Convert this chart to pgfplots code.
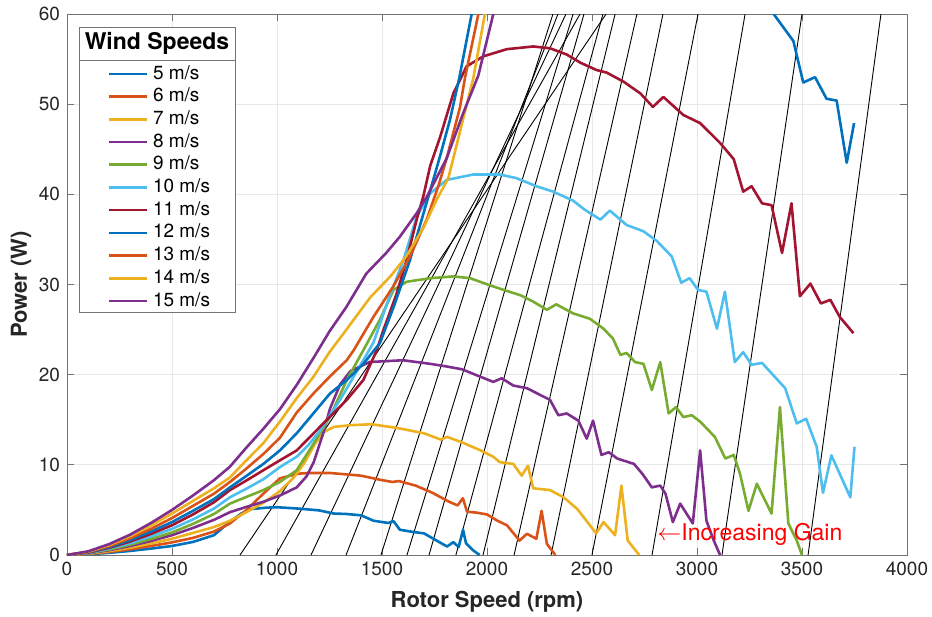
\documentclass[border=0pt]{standalone}
\usepackage{pgfplots}
\pgfplotsset{compat=1.18}
\usepackage{fontspec}
\setmainfont{TeX Gyre Heros}

\definecolor{mb}{rgb}{0,0.447,0.741}
\definecolor{mo}{rgb}{0.850,0.325,0.098}
\definecolor{my}{rgb}{0.929,0.694,0.125}
\definecolor{mp}{rgb}{0.494,0.184,0.556}
\definecolor{mg}{rgb}{0.466,0.674,0.188}
\definecolor{mc}{rgb}{0.301,0.745,0.933}
\definecolor{mr}{rgb}{0.635,0.078,0.184}

\begin{document}
\begin{tikzpicture}
\useasboundingbox (-33.5pt,-30.5pt) rectangle (432.5pt,277.5pt);
\begin{axis}[
  scale only axis, width=420pt, height=270.5pt,
  xmin=0, xmax=4000, ymin=0, ymax=60,
  xtick={0,500,...,4000}, ytick={0,10,...,60},
  scaled ticks=false,
  tick align=inside, tick pos=both,
  major tick length=3.5pt,
  grid=major, major grid style={black!9, line width=0.4pt},
  axis line style={black!55, line width=0.45pt},
  every tick/.style={black!55, line width=0.45pt},
  tick label style={font=\fontsize{9.5}{11}\selectfont, text=black!85},
  /pgf/number format/assume math mode=true,
  /pgf/number format/1000 sep={},
  xlabel={\textbf{Rotor Speed (rpm)}},
  ylabel={\textbf{Power (W)}},
  label style={font=\fontsize{11}{13}\selectfont, text=black!85},
  xlabel style={at={(axis description cs:0.5,-0.086)}, anchor=center},
  ylabel style={at={(axis description cs:-0.0548,0.5)}, anchor=center, rotate=0},
  unbounded coords=jump,
  legend cell align=left,
  legend style={draw=none, fill=none, at={(axis description cs:0.01429,0.906)},
    anchor=north west, inner sep=0pt, row sep=2.65pt, column sep=0pt,
    font=\fontsize{9.5}{11}\selectfont,
    nodes={inner sep=0pt, text height=6.9pt, text depth=1.8pt},
    /tikz/every odd column/.append style={column sep=2.5pt}},
  legend image code/.code={\path (0pt,0pt); \draw[#1] (14pt,0pt) -- (33pt,0pt);},
  every axis plot/.append style={line width=1.3pt, line join=round},
]

% gain lines
\addplot[black, line width=0.45pt, forget plot] coordinates {(824,0) (2567,60)};
\addplot[black, line width=0.45pt, forget plot] coordinates {(995,0) (2443,60)};
\addplot[black, line width=0.45pt, forget plot] coordinates {(1162,0) (2376,60)};
\addplot[black, line width=0.45pt, forget plot] coordinates {(1329,0) (2338,60)};
\addplot[black, line width=0.45pt, forget plot] coordinates {(1495,0) (2314,60)};
\addplot[black, line width=0.45pt, forget plot] coordinates {(1619,0) (2410,60)};
\addplot[black, line width=0.45pt, forget plot] coordinates {(1724,0) (2462,60)};
\addplot[black, line width=0.45pt, forget plot] coordinates {(1852,0) (2552,60)};
\addplot[black, line width=0.45pt, forget plot] coordinates {(1981,0) (2610,60)};
\addplot[black, line width=0.45pt, forget plot] coordinates {(2129,0) (2714,60)};
\addplot[black, line width=0.45pt, forget plot] coordinates {(2305,0) (2838,60)};
\addplot[black, line width=0.45pt, forget plot] coordinates {(2500,0) (3005,60)};
\addplot[black, line width=0.45pt, forget plot] coordinates {(2786,0) (3229,60)};
\addplot[black, line width=0.45pt, forget plot] coordinates {(3119,0) (3500,60)};
\addplot[black, line width=0.45pt, forget plot] coordinates {(3529,0) (3876,60)};

% 5 m/s
\addplot[mb] coordinates {(0,0)(100,0.08)(200,0.24)(300,0.45)(400,0.71)(500,1.0)(600,1.45)(700,2.2)(776,3.7)(830,4.6)(880,5.1)(950,5.25)(1000,5.3)(1100,5.15)(1200,4.95)(1270,4.6)(1330,4.55)(1400,4.4)(1460,3.8)(1530,3.55)(1555,3.75)(1585,2.8)(1650,2.55)(1700,2.4)(1745,1.8)(1790,1.2)(1810,0.95)(1840,1.42)(1865,0.87)(1886,2.8)(1900,1.3)(1935,0.5)(1965,0)};
\addlegendentry{5 m/s}
% 6 m/s
\addplot[mo] coordinates {(0,0)(100,0.11)(200,0.34)(300,0.63)(400,1.0)(500,1.4)(600,1.9)(700,2.6)(776,3.5)(850,4.9)(935,6.8)(1014,8.5)(1094,9.0)(1150,9.1)(1250,9.1)(1400,8.8)(1500,8.3)(1550,8.1)(1580,8.2)(1660,7.7)(1740,6.9)(1820,5.9)(1860,5.5)(1885,6.3)(1905,4.8)(1950,4.7)(2000,4.5)(2050,3.8)(2095,3.3)(2155,1.6)(2190,2.35)(2235,1.8)(2260,4.9)(2285,1.25)(2325,0)};
\addlegendentry{6 m/s}
% 7 m/s
\addplot[my] coordinates {(0,0)(100,0.14)(200,0.43)(300,0.81)(400,1.28)(500,1.8)(600,2.45)(700,3.1)(776,3.8)(850,4.7)(935,5.8)(1010,7.0)(1080,8.6)(1130,10.2)(1180,12.3)(1220,13.6)(1270,14.2)(1350,14.4)(1450,14.5)(1570,14.1)(1700,13.5)(1780,12.8)(1810,13.1)(1880,12.5)(1970,11.6)(2030,10.9)(2060,10.3)(2125,10.1)(2165,8.8)(2195,9.9)(2220,7.4)(2300,7.2)(2365,6.4)(2430,5.1)(2520,2.4)(2555,3.65)(2610,2.2)(2640,7.7)(2670,1.6)(2725,0)};
\addlegendentry{7 m/s}
% 8 m/s
\addplot[mp] coordinates {(0,0)(100,0.18)(200,0.53)(300,1.0)(400,1.56)(500,2.2)(600,3.0)(700,3.9)(776,4.75)(850,5.3)(935,5.9)(1014,6.6)(1094,7.5)(1140,8.7)(1175,10.3)(1220,13.5)(1252,16.2)(1300,18.9)(1350,20.4)(1440,21.4)(1600,21.6)(1730,21.2)(1810,20.9)(1880,20.6)(2030,19.2)(2070,19.6)(2125,18.8)(2190,18.5)(2300,17.2)(2340,15.5)(2380,15.7)(2435,14.9)(2475,12.9)(2505,14.9)(2545,11.1)(2580,11.4)(2620,10.7)(2700,10.1)(2740,9.0)(2785,7.5)(2825,7.7)(2850,6.8)(2885,3.65)(2920,5.7)(2980,3.5)(3015,11.6)(3045,3.8)(3080,1.6)(3110,0)};
\addlegendentry{8 m/s}
% 9 m/s
\addplot[mg] coordinates {(0,0)(100,0.2)(200,0.6)(300,1.13)(400,1.78)(500,2.5)(600,3.45)(700,4.55)(776,5.7)(850,6.4)(935,7.2)(1014,8.1)(1094,9.4)(1173,12.3)(1252,15.3)(1332,19.4)(1411,22.7)(1490,26.1)(1555,29.4)(1617,30.3)(1730,30.7)(1840,30.9)(1920,30.7)(2015,29.9)(2080,29.4)(2160,28.8)(2220,28.1)(2285,27.2)(2330,27.8)(2410,26.8)(2490,26.2)(2555,25.1)(2600,24.0)(2635,22.2)(2665,22.4)(2705,21.4)(2745,21.2)(2785,18.3)(2825,21.4)(2865,15.7)(2900,16.4)(2935,15.3)(2975,15.5)(3015,14.8)(3085,13.1)(3135,10.7)(3175,11.1)(3205,9.0)(3245,4.9)(3285,7.9)(3355,4.6)(3395,16.4)(3435,3.5)(3475,1.6)(3500,0)};
\addlegendentry{9 m/s}
% 10 m/s
\addplot[mc] coordinates {(0,0)(100,0.23)(200,0.7)(300,1.3)(400,2.06)(500,2.9)(600,3.95)(700,5.15)(776,6.4)(850,7.3)(935,8.4)(1014,9.75)(1094,10.9)(1150,12.2)(1205,13.8)(1300,17.2)(1411,21.6)(1460,23.6)(1530,28.3)(1602,32.7)(1665,37.5)(1729,40.1)(1808,41.6)(1935,42.2)(2060,42.2)(2140,41.8)(2235,40.9)(2315,40.3)(2410,39.3)(2465,38.3)(2540,37.2)(2585,38.2)(2665,36.6)(2745,35.9)(2810,34.8)(2880,33.1)(2925,30.2)(2965,30.7)(3005,29.4)(3045,29.2)(3095,25.1)(3133,29.2)(3180,21.4)(3220,22.5)(3260,21.1)(3310,21.3)(3365,19.9)(3420,18.5)(3475,14.6)(3520,15.1)(3570,12.0)(3600,6.9)(3640,11.05)(3730,6.4)(3750,12.0)};
\addlegendentry{10 m/s}
% 11 m/s
\addplot[mr] coordinates {(0,0)(100,0.26)(200,0.79)(300,1.49)(400,2.34)(500,3.3)(600,4.5)(700,5.85)(776,7.2)(850,8.2)(935,9.4)(1014,10.5)(1094,11.6)(1221,14.6)(1332,17.2)(1411,19.4)(1475,22.7)(1506,24.9)(1570,29.0)(1617,32.7)(1665,37.2)(1697,39.8)(1730,43.2)(1776,46.3)(1840,51.2)(1903,54.2)(1982,55.3)(2094,56.1)(2220,56.4)(2300,56.2)(2380,55.5)(2445,54.6)(2520,53.8)(2570,53.5)(2650,52.5)(2730,51.2)(2790,49.7)(2840,50.8)(2935,48.8)(3015,47.9)(3110,45.7)(3175,43.9)(3220,40.3)(3260,40.9)(3310,39.0)(3355,38.8)(3405,33.5)(3450,39.0)(3490,28.7)(3540,30.1)(3590,27.9)(3635,28.3)(3680,26.4)(3745,24.6)};
\addlegendentry{11 m/s}
% 12 m/s
\addplot[mb] coordinates {(0,0)(100,0.29)(200,0.88)(300,1.64)(400,2.6)(500,3.65)(600,4.9)(700,6.2)(776,7.5)(850,8.7)(935,10.1)(1014,11.6)(1094,13.5)(1173,15.7)(1252,17.9)(1332,19.4)(1411,21.2)(1490,23.5)(1560,27.8)(1633,32.7)(1689,37.2)(1744,41.6)(1776,44.2)(1824,48.3)(1868,52.9)(1927,60)(1945,62)(1950,nan)(3300,62.1)(3365,60)(3459,57.0)(3506,52.4)(3562,53.0)(3617,50.6)(3665,50.4)(3713,43.5)(3748,47.9)};
\addlegendentry{12 m/s}
% 13 m/s
\addplot[mo] coordinates {(0,0)(100,0.33)(200,0.98)(300,1.85)(400,2.9)(500,4.1)(600,5.45)(700,6.8)(776,8.1)(850,9.5)(935,11.2)(1014,13.0)(1094,15.8)(1173,17.9)(1252,19.8)(1332,21.6)(1365,22.7)(1459,26.4)(1554,29.8)(1633,33.1)(1713,37.2)(1768,40.9)(1808,44.0)(1871,49.6)(1895,52.9)(1959,60)(1975,62)};
\addlegendentry{13 m/s}
% 14 m/s
\addplot[my] coordinates {(0,0)(100,0.37)(200,1.1)(300,2.07)(400,3.27)(500,4.6)(600,6.0)(700,7.4)(776,8.6)(850,10.4)(935,12.4)(1014,14.8)(1094,17.4)(1173,19.75)(1250,22.5)(1340,25.3)(1445,28.6)(1540,30.9)(1615,33.1)(1700,36.4)(1760,39.4)(1816,41.8)(1935,52.9)(1990,60)(2006,62)};
\addlegendentry{14 m/s}
% 15 m/s
\addplot[mp] coordinates {(0,0)(100,0.4)(200,1.2)(300,2.25)(400,3.55)(500,5.0)(600,6.6)(700,8.3)(776,9.8)(850,11.8)(935,14.0)(1015,16.2)(1095,18.9)(1175,21.9)(1250,24.8)(1330,27.5)(1425,31.2)(1520,33.5)(1585,35.3)(1665,37.9)(1715,39.8)(1808,44.0)(1885,48.9)(1959,53.2)(2030,60)(2050,62)};
\addlegendentry{15 m/s}

% legend frame with its title row
\draw[black!55, line width=0.45pt, fill=white] (rel axis cs:0.01429,0.4492) rectangle (rel axis cs:0.2,0.9760);
\draw[black!55, line width=0.45pt] (rel axis cs:0.01429,0.9150) -- (rel axis cs:0.2,0.9150);
\node[font=\bfseries\fontsize{11.5}{13}\selectfont, inner sep=0pt] at (rel axis cs:0.1071,0.9455) {Wind Speeds};

\node[red, anchor=west, font=\fontsize{11.5}{13}\selectfont, inner sep=0pt] at (axis cs:2810,2.3) {$\leftarrow$Increasing Gain};
\end{axis}
\end{tikzpicture}
\end{document}
